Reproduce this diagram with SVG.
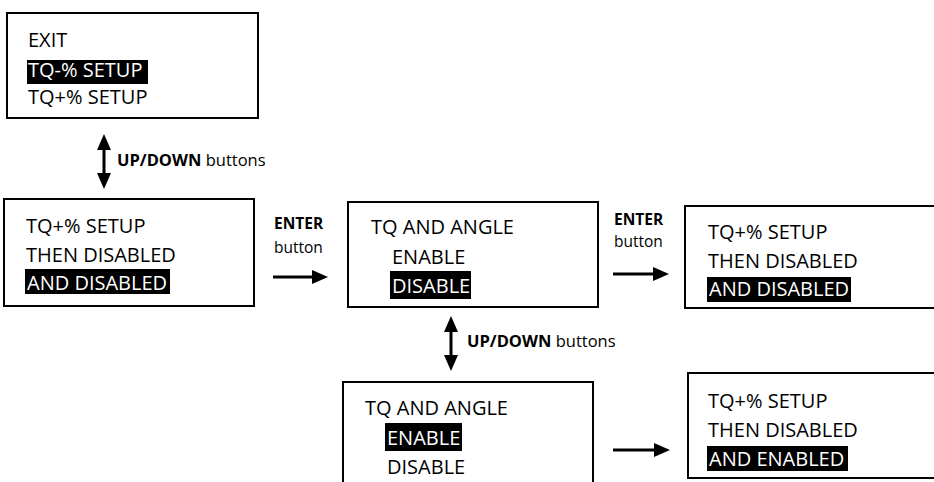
<svg xmlns="http://www.w3.org/2000/svg" width="934" height="482" viewBox="0 0 934 482">
<style>
.box{fill:#fff;stroke:#000;stroke-width:2}
.t{font-family:"Open Sans","Noto Sans",sans-serif;font-size:20px;fill:#000}
.w{fill:#fff}
.hl{fill:#000}
.lb{font-family:"Open Sans","Noto Sans",sans-serif;font-size:15.5px;fill:#000}
.ud{font-size:16.5px}
.b{font-weight:bold}
.ar{stroke:#000;stroke-width:3;fill:none}
</style>
<defs>
<marker id="ah" markerUnits="userSpaceOnUse" markerWidth="16" markerHeight="14" refX="3" refY="7" orient="auto-start-reverse" viewBox="0 0 16 14">
<path d="M0,0 L16,7 L0,14 z" fill="#000"/>
</marker>
</defs>
<rect width="934" height="482" fill="#fff"/>

<g id="node-menu">
<rect class="box" x="7" y="13" width="251" height="105"/>
<text class="t" x="28" y="47">EXIT</text>
<rect class="hl" x="27" y="60" width="121" height="24"/>
<text class="t w" x="28" y="77">TQ-% SETUP</text>
<text class="t" x="28" y="104">TQ+% SETUP</text>
</g>

<g id="node-setup1">
<rect class="box" x="4" y="199" width="250" height="107"/>
<text class="t" x="26" y="233">TQ+% SETUP</text>
<text class="t" x="26" y="262">THEN DISABLED</text>
<rect class="hl" x="25" y="269" width="145" height="25"/>
<text class="t w" x="27" y="290">AND DISABLED</text>
</g>

<g id="node-angle1">
<rect class="box" x="348" y="202" width="250" height="105"/>
<text class="t" x="371" y="234">TQ AND ANGLE</text>
<text class="t" x="392" y="264">ENABLE</text>
<rect class="hl" x="390" y="271" width="81" height="28"/>
<text class="t w" x="392" y="293">DISABLE</text>
</g>

<g id="node-setup2">
<rect class="box" x="685" y="206" width="270" height="102"/>
<text class="t" x="708" y="239">TQ+% SETUP</text>
<text class="t" x="708" y="268">THEN DISABLED</text>
<rect class="hl" x="707" y="277" width="144" height="25"/>
<text class="t w" x="709" y="296">AND DISABLED</text>
</g>

<g id="node-angle2">
<rect class="box" x="343" y="382" width="250" height="120"/>
<text class="t" x="365" y="415">TQ AND ANGLE</text>
<rect class="hl" x="385" y="423" width="77" height="28"/>
<text class="t w" x="387" y="445">ENABLE</text>
<text class="t" x="387" y="474">DISABLE</text>
</g>

<g id="node-setup3">
<rect class="box" x="688" y="373" width="270" height="105"/>
<text class="t" x="708" y="408">TQ+% SETUP</text>
<text class="t" x="708" y="437">THEN DISABLED</text>
<rect class="hl" x="707" y="446" width="141" height="25"/>
<text class="t w" x="709" y="466">AND ENABLED</text>
</g>

<g id="connectors">
<line class="ar" x1="104" y1="147" x2="104" y2="176" marker-start="url(#ah)" marker-end="url(#ah)"/>
<text class="lb ud" x="117" y="166"><tspan class="b">UP/DOWN</tspan> buttons</text>

<line class="ar" x1="273" y1="277" x2="315" y2="277" marker-end="url(#ah)"/>
<text class="lb b" x="274" y="229">ENTER</text>
<text class="lb" x="274" y="253">button</text>

<line class="ar" x1="613" y1="274" x2="656" y2="274" marker-end="url(#ah)"/>
<text class="lb b" x="614" y="225">ENTER</text>
<text class="lb" x="614" y="247">button</text>

<line class="ar" x1="451" y1="329" x2="451" y2="358" marker-start="url(#ah)" marker-end="url(#ah)"/>
<text class="lb ud" x="467" y="347"><tspan class="b">UP/DOWN</tspan> buttons</text>

<line class="ar" x1="613" y1="450" x2="657" y2="450" marker-end="url(#ah)"/>
</g>
</svg>
